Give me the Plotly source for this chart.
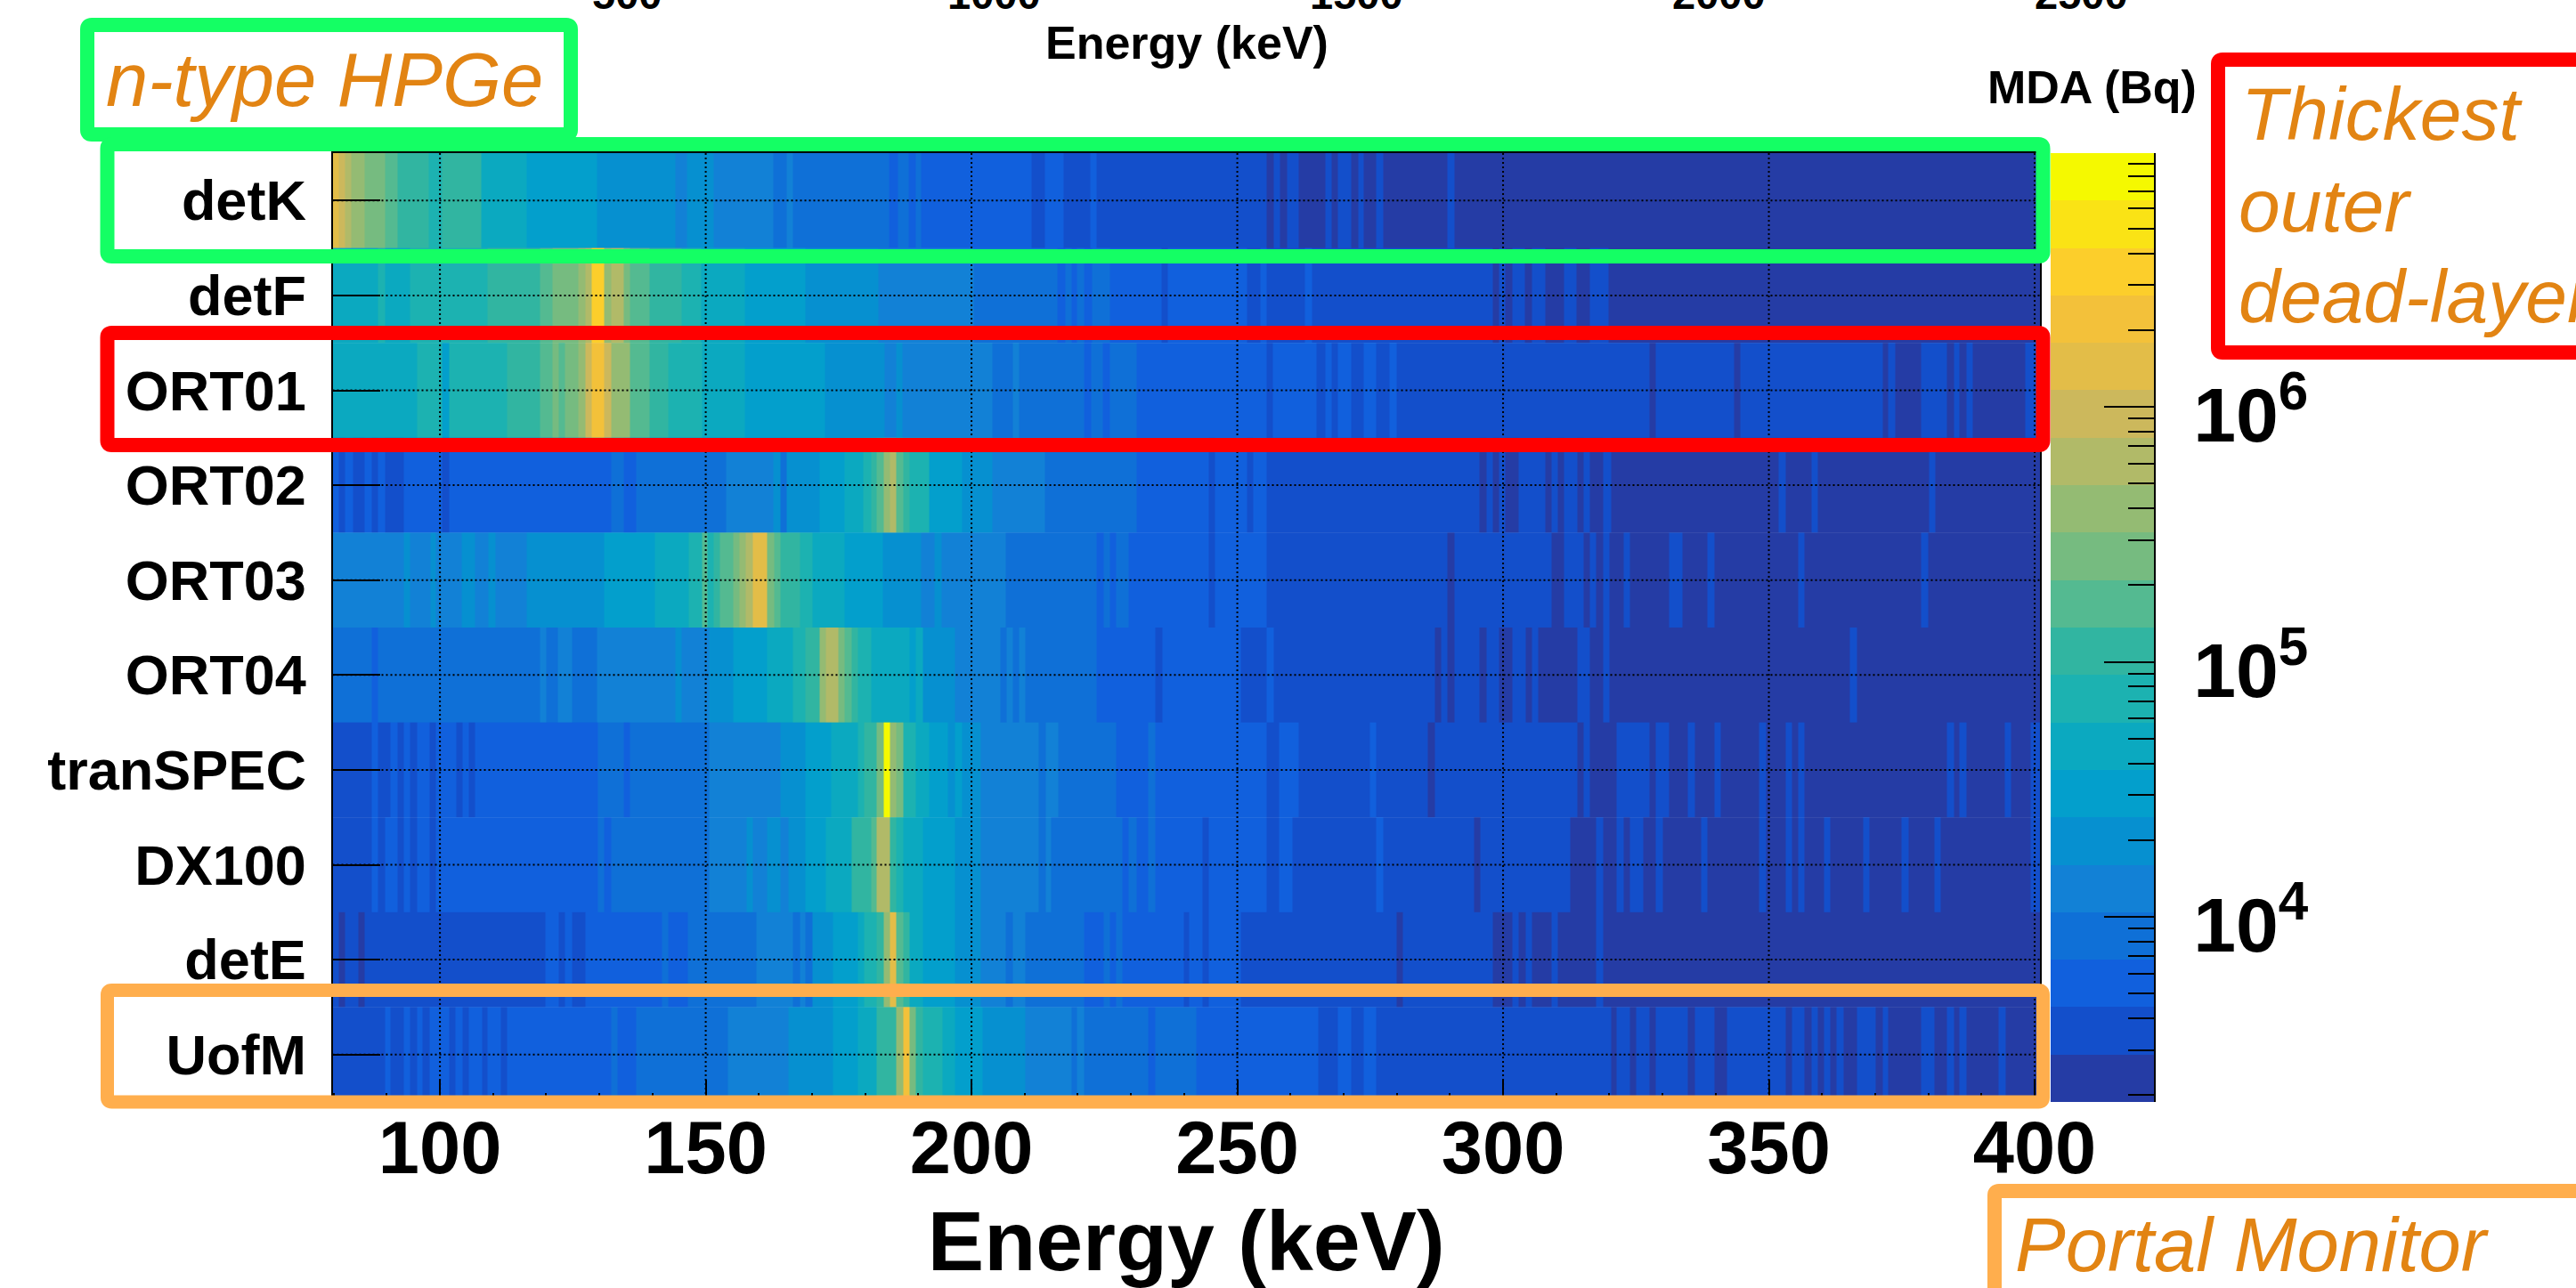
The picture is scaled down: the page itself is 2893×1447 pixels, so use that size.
import plotly.graph_objects as go

W, H = 2893, 1447

# Colour bands of the MDA legend (bottom -> top), band index = position in list
BAND_COLORS = ["#253CA5", "#134FCB", "#1160DD", "#0F70D7", "#1281D6", "#0690D0", "#039FCC",
               "#0BA9C0", "#1CB2B1", "#31B5A1", "#54BA91", "#76BB80", "#94BB73", "#B1BA68",
               "#CCB85C", "#E3BD48", "#F3C13A", "#FCCE2B", "#FAE315", "#F5F900"]
# log10(MDA / Bq) edges of those 20 bands
BAND_LOG_EDGES = [3.274, 3.460, 3.646, 3.832, 4.018, 4.204, 4.390, 4.576, 4.762, 4.948, 5.134,
                  5.321, 5.507, 5.693, 5.879, 6.065, 6.251, 6.437, 6.623, 6.809, 6.995]

DETECTORS = ["detK", "detF", "ORT01", "ORT02", "ORT03", "ORT04", "tranSPEC", "DX100", "detE", "UofM"]
E_MIN, E_MAX = 79.8, 401.0

# Each row: (start energy in keV, MDA band index); a run lasts until the next start
detK = [(79.8,15),(81.0,14),(82.1,13),(83.4,12),(85.8,11),(89.6,10),(92.0,9),(97.9,8),(100.4,9),(107.7,7),
        (116.4,6),(129.5,5),(144.3,4),(146.5,5),(151.5,4),(162.7,3),(165.2,4),(166.4,3),(184.5,2),(186.2,3),
        (188.2,2),(189.5,3),(190.6,2),(211.3,1),(213.8,2),(217.4,1),(222.4,2),(223.6,1),(255.6,0),(256.8,1),
        (258.0,0),(259.3,1),(261.6,0),(266.6,1),(267.8,0),(268.9,1),(271.4,0),(272.7,1),(273.8,0),(276.2,1),
        (277.4,0),(289.6,1),(290.8,0)]
detF = [(79.8,7),(88.3,8),(89.6,7),(94.4,8),(108.9,9),(118.8,10),(121.1,11),(126.0,12),(127.3,13),(128.5,17),
        (130.9,12),(132.2,13),(134.5,11),(135.7,10),(139.4,9),(145.4,8),(149.1,7),(157.4,6),(168.8,5),(182.5,4),
        (200.4,3),(216.1,2),(217.7,3),(218.8,2),(219.9,3),(221.1,2),(222.7,3),(226.1,2),(235.7,1),(237.0,2),
        (251.9,1),(254.3,2),(255.6,1),(262.8,2),(264.0,1),(298.1,0),(299.3,1),(300.4,0),(301.7,1),(304.1,0),
        (305.4,1),(307.9,0),(311.5,1),(313.8,0),(316.4,1),(319.9,0)]
ORT01 = [(79.8,7),(95.7,8),(100.4,6),(101.7,8),(112.6,9),(118.8,10),(121.1,11),(122.3,10),(123.6,11),(126.0,12),
         (127.3,14),(128.5,16),(130.9,14),(132.2,12),(135.7,10),(139.4,9),(142.9,8),(149.3,7),(157.4,6),(172.4,5),
         (183.6,4),(185.9,5),(187.0,4),(204.0,3),(207.8,4),(209.0,3),(221.1,2),(222.5,3),(224.7,2),(226.1,3),
         (231.0,2),(255.6,1),(256.7,2),(264.9,1),(266.6,2),(267.8,1),(268.9,2),(271.4,1),(273.8,2),(276.2,1),
         (278.7,2),(279.9,1),(327.6,0),(328.8,1),(343.4,0),(344.6,1),(371.4,0),(372.5,1),(373.8,0),(378.6,1),
         (383.5,0),(384.8,1),(385.9,0),(387.2,1),(388.4,0),(398.2,1)]
ORT02 = [(79.8,2),(80.9,1),(82.1,2),(83.6,1),(85.8,2),(87.2,1),(88.3,2),(89.6,1),(93.2,2),(100.4,1),(101.7,2),
         (132.2,3),(134.5,2),(137.0,3),(153.8,4),(162.7,5),(164.0,3),(165.2,5),(171.4,6),(176.1,7),(179.7,8),
         (181.1,9),(182.2,10),(183.5,12),(184.6,13),(185.9,10),(187.1,9),(188.4,8),(192.0,6),(198.2,5),(204.0,4),
         (213.8,3),(231.0,2),(244.6,1),(245.8,2),(251.9,1),(253.0,2),(255.6,1),(295.6,0),(296.9,1),(298.1,0),
         (299.3,1),(300.4,0),(303.0,1),(307.9,0),(309.1,1),(310.3,0),(311.5,1),(314.0,0),(315.1,1),(316.4,0),
         (318.8,1),(320.4,0),(351.9,1),(353.1,0),(358.0,1),(359.2,0),(380.1,1),(381.4,0)]
ORT03 = [(79.8,4),(93.2,5),(94.3,4),(98.2,5),(99.3,4),(104.1,5),(106.6,4),(109.1,5),(110.4,4),(116.4,5),(130.9,6),
         (140.4,7),(146.8,8),(149.3,10),(150.4,8),(151.5,9),(152.7,10),(155.2,11),(156.3,12),(157.5,13),(158.8,15),
         (161.6,11),(162.9,10),(164.1,9),(167.7,8),(170.1,7),(176.2,6),(183.4,5),(190.6,4),(193.1,5),(194.4,4),
         (206.5,3),(223.6,2),(224.9,3),(226.1,2),(227.2,3),(229.6,2),(244.6,1),(245.8,2),(255.6,1),(289.6,0),
         (290.8,1),(309.1,0),(311.5,1),(315.1,0),(316.4,1),(317.5,0),(318.8,1),(320.0,0),(322.7,1),(323.9,0),
         (331.2,1),(333.7,0),(338.5,1),(339.7,0),(355.5,1),(356.7,0),(378.6,1),(379.9,0)]
ORT04 = [(79.8,3),(87.1,2),(88.3,3),(118.8,4),(120.0,3),(122.2,4),(124.9,3),(129.6,4),(144.3,5),(145.4,4),(150.7,5),
         (155.2,6),(161.6,7),(166.4,8),(168.8,9),(171.4,12),(172.6,13),(175.0,11),(176.2,10),(177.4,9),(178.6,8),
         (181.1,7),(188.4,6),(189.5,7),(190.8,5),(196.9,4),(205.4,3),(206.6,4),(207.8,3),(209.0,4),(210.2,3),
         (223.6,2),(234.6,1),(235.9,2),(250.6,1),(255.6,2),(256.8,1),(287.2,0),(288.4,1),(289.6,0),(290.8,1),
         (295.6,0),(296.9,1),(299.3,0),(301.7,1),(304.2,0),(305.5,1),(306.6,0),(314.0,1),(316.4,0),(318.8,1),
         (320.0,0),(365.3,1),(366.5,0)]
tranSPEC = [(79.8,1),(87.1,2),(88.3,1),(90.7,2),(92.0,1),(93.2,2),(94.4,1),(95.7,2),(98.1,1),(99.3,2),(103.0,1),
            (104.2,2),(105.4,1),(106.6,2),(129.8,3),(134.5,2),(135.7,3),(150.7,4),(164.0,5),(168.8,6),(173.6,7),
            (178.6,8),(179.8,9),(182.2,11),(183.5,19),(184.6,12),(185.9,11),(187.1,8),(189.5,7),(192.0,6),(195.6,5),
            (196.9,6),(198.2,5),(201.8,4),(212.7,3),(213.9,4),(216.3,3),(227.2,2),(233.3,3),(234.6,2),(255.6,1),
            (257.9,2),(261.6,1),(274.9,2),(276.2,1),(285.9,0),(287.2,1),(314.0,0),(315.1,1),(316.4,0),(321.4,1),
            (327.6,0),(328.8,1),(331.2,0),(334.8,1),(336.1,0),(339.7,1),(340.9,0),(348.2,1),(349.5,0),(353.1,1),
            (354.3,0),(355.5,1),(356.7,0),(383.5,1),(384.8,0),(385.9,1),(387.2,0),(394.4,1),(395.6,0),(399.3,1)]
DX100 = [(79.8,1),(87.1,2),(88.3,1),(89.6,2),(92.0,1),(93.2,2),(94.4,1),(95.7,2),(98.1,1),(99.3,2),(129.8,3),
         (130.9,2),(132.2,3),(150.7,4),(157.7,5),(158.8,4),(161.6,5),(164.0,4),(165.5,5),(168.8,6),(172.6,7),
         (177.4,9),(181.1,10),(182.2,13),(184.6,9),(185.9,8),(187.1,7),(190.8,6),(196.9,5),(201.8,4),(212.7,3),
         (213.9,4),(215.0,3),(228.4,2),(229.6,3),(231.0,2),(233.3,3),(234.6,2),(243.4,1),(244.6,2),(255.6,1),
         (257.9,2),(260.4,1),(276.2,2),(277.4,1),(294.5,0),(295.7,1),(312.7,0),(317.5,1),(318.8,0),(321.4,1),
         (322.7,0),(323.9,1),(326.3,0),(328.8,1),(330.0,0),(337.3,1),(338.5,0),(348.2,1),(349.5,0),(353.1,1),
         (354.3,0),(355.5,1),(356.7,0),(360.4,1),(361.6,0),(367.7,1),(368.9,0),(375.0,1),(376.3,0),(381.1,1),
         (382.3,0),(399.3,1)]
detE = [(79.8,1),(80.9,0),(82.1,1),(84.6,0),(85.8,1),(119.9,2),(122.3,1),(123.6,2),(124.9,1),(127.3,2),(141.8,3),
        (143.0,2),(146.7,3),(159.6,4),(166.4,3),(167.7,4),(168.8,3),(170.1,5),(173.9,6),(178.6,7),(179.8,8),
        (182.2,9),(183.5,12),(184.6,15),(185.9,10),(187.1,9),(188.4,7),(190.9,6),(196.9,5),(201.8,4),(206.5,3),
        (207.8,4),(210.2,3),(221.1,2),(224.9,3),(226.1,2),(227.2,3),(228.4,2),(240.0,1),(240.9,2),(243.4,1),
        (244.6,2),(250.6,1),(279.9,0),(281.1,1),(298.1,0),(301.7,1),(303.0,0),(304.2,1),(305.5,0),(309.1,1),
        (310.3,0),(317.5,1),(318.8,0)]
UofM = [(79.8,1),(89.6,2),(90.7,1),(93.2,2),(94.4,1),(95.7,2),(96.8,1),(98.1,2),(101.8,1),(102.9,2),(104.2,1),
        (105.4,2),(108.0,1),(108.9,2),(111.5,1),(112.6,2),(132.2,3),(133.4,2),(137.0,3),(154.1,4),(165.5,5),
        (173.9,6),(178.6,7),(182.2,9),(185.9,12),(187.1,16),(188.3,11),(189.5,9),(190.8,8),(194.5,7),(196.9,6),
        (202.1,5),(210.2,4),(218.8,3),(219.9,4),(221.2,3),(233.3,2),(234.6,3),(242.3,2),(265.3,1),(268.9,2),
        (271.4,1),(273.8,2),(276.2,1),(320.4,0),(321.4,1),(323.9,0),(325.1,1),(327.6,0),(328.8,1),(334.8,0),
        (336.1,1),(339.7,0),(342.2,1),(353.1,0),(354.3,1),(356.7,0),(358.0,1),(359.2,0),(360.4,1),(361.6,0),
        (362.8,1),(364.0,0),(366.5,1),(370.1,0),(371.4,1),(372.5,0),(378.6,1),(381.1,0),(383.5,1),(384.8,0),
        (385.9,1),(387.2,0),(393.2,1),(394.5,0)]
ROWS = [detK, detF, ORT01, ORT02, ORT03, ORT04, tranSPEC, DX100, detE, UofM]

X_MAJOR = [100, 150, 200, 250, 300, 350, 400]
TOP_TICK_LABELS = ["500", "1000", "1500", "2000", "2500"]
CB_TICKS = [1e4, 1e5, 1e6]
CB_TICK_TEXT = ["10<sup>4</sup>", "10<sup>5</sup>", "10<sup>6</sup>"]
CB_MINOR = [m * 10**k for k in (3, 4, 5, 6) for m in range(2, 10)]

FONT = "Liberation Sans"
ORANGE_TEXT = "#E28413"
GREEN, RED, ORANGE = "#14FF64", "#FF0000", "#FFAE4D"

# frame geometry in page pixels
L, R, T, B = 373.5, 2291, 172, 1238
CB_L, CB_R = 2303, 2419
px = lambda v: v / W
py = lambda v: 1 - v / H

scale = []
n = len(BAND_COLORS)
for i, c in enumerate(BAND_COLORS):
    scale += [[i / n, c], [(i + 1) / n, c]]

fig = go.Figure()
for r, row in enumerate(ROWS):
    starts = [s for s, _ in row]
    fig.add_trace(go.Heatmap(x=starts + [E_MAX], y=[r, r + 1], z=[[lv for _, lv in row]],
                             coloraxis="coloraxis", name=DETECTORS[r]))
fig.add_trace(go.Heatmap(x=[0, 1], y=[10**e for e in BAND_LOG_EDGES], z=[[i] for i in range(n)],
                         coloraxis="coloraxis", xaxis="x2", yaxis="y2", name="MDA (Bq)"))


def rbox(x0, y0, x1, y1, color, width, r=5):
    p = (f"M{px(x0+r)},{py(y0)} L{px(x1-r)},{py(y0)} Q{px(x1)},{py(y0)} {px(x1)},{py(y0+r)} "
         f"L{px(x1)},{py(y1-r)} Q{px(x1)},{py(y1)} {px(x1-r)},{py(y1)} L{px(x0+r)},{py(y1)} "
         f"Q{px(x0)},{py(y1)} {px(x0)},{py(y1-r)} L{px(x0)},{py(y0+r)} Q{px(x0)},{py(y0)} {px(x0+r)},{py(y0)} Z")
    return dict(type="path", path=p, xref="paper", yref="paper", line=dict(color=color, width=width), layer="above")


DOT = dict(color="black", width=2, dash="2px,3px")
shapes = []
for v in X_MAJOR:
    shapes.append(dict(type="line", xref="x", yref="y", x0=v, x1=v, y0=0, y1=len(ROWS), line=DOT, layer="above"))
for r in range(len(ROWS)):
    shapes.append(dict(type="line", xref="x", yref="y", x0=E_MIN, x1=E_MAX, y0=r + .5, y1=r + .5, line=DOT, layer="above"))
shapes += [rbox(98, 28, 641, 151, GREEN, 16),
           rbox(120.5, 162, 2294.5, 288, GREEN, 16),
           rbox(120.5, 374, 2294.5, 500, RED, 16),
           rbox(120.5, 1112.5, 2294.5, 1238, ORANGE, 15),
           rbox(2491, 67, 2960, 396, RED, 16),
           rbox(2240, 1338, 3000, 1520, ORANGE, 16)]


def label(x, base, text, size, color="black", anchor="left", bold=False, italic=False):
    t = f"<i>{text}</i>" if italic else text
    return dict(xref="paper", yref="paper", x=px(x), y=py(base + 0.212 * size), yanchor="bottom", xanchor=anchor,
                text=t, showarrow=False, borderpad=0, borderwidth=0,
                font=dict(family=FONT, size=size, color=color, weight=700 if bold else 400))


anns = [label(119, 119, "n-type HPGe", 85, ORANGE_TEXT, italic=True),
        label(2517, 157, "Thickest", 84, ORANGE_TEXT, italic=True),
        label(2514, 260, "outer", 84, ORANGE_TEXT, italic=True),
        label(2514, 362, "dead-layer", 84, ORANGE_TEXT, italic=True),
        label(2263, 1428, "Portal Monitor", 85, ORANGE_TEXT, italic=True),
        label(2232, 116, "MDA (Bq)", 52, bold=True),
        label(1333, 66, "Energy (keV)", 52, anchor="center", bold=True)]
for pos, txt in zip([704, 1116, 1523, 1930, 2337], TOP_TICK_LABELS):
    anns.append(label(pos, 10, txt, 47, anchor="center", bold=True))

fig.update_layout(
    width=W, height=H, autosize=False, margin=dict(l=0, r=0, t=0, b=0), paper_bgcolor="white", plot_bgcolor="white",
    showlegend=False, shapes=shapes, annotations=anns,
    coloraxis=dict(colorscale=scale, cmin=-0.5, cmax=n - 0.5, showscale=False),
    xaxis=dict(domain=[px(L), px(R)], range=[E_MIN, E_MAX], tick0=0, dtick=50, ticks="inside", ticklen=25, tickwidth=2,
               automargin=False,
               tickcolor="black", showline=True, linecolor="black", linewidth=2, mirror=True, showgrid=False, zeroline=False,
               tickfont=dict(family=FONT, size=83, color="black", weight=700), ticklabelstandoff=-22,
               minor=dict(ticks="inside", ticklen=10, tickwidth=2, tickcolor="black", dtick=10, tick0=0, showgrid=False),
               title=dict(text="Energy (keV)", standoff=30, font=dict(family=FONT, size=95, color="black", weight=700))),
    yaxis=dict(domain=[py(B), py(T)], range=[len(ROWS), 0], tickmode="array", tickvals=[r + .5 for r in range(len(ROWS))],
               automargin=False,
               ticktext=DETECTORS, ticks="inside", ticklen=53, tickwidth=2, tickcolor="black", showline=True,
               linecolor="black", linewidth=2, mirror=True, showgrid=False, zeroline=False, ticklabelstandoff=15,
               tickfont=dict(family=FONT, size=63, color="black", weight=700)),
    xaxis2=dict(domain=[px(CB_L), px(CB_R)], range=[0, 1], anchor="y2", visible=False, automargin=False),
    yaxis2=dict(domain=[py(B), py(T)], anchor="x2", type="log", range=[BAND_LOG_EDGES[0], BAND_LOG_EDGES[-1]], side="right",
                automargin=False,
                tickmode="array", tickvals=CB_TICKS, ticktext=CB_TICK_TEXT, ticks="inside", ticklen=56, tickwidth=2,
                tickcolor="black", showline=True, linecolor="black", linewidth=2, showgrid=False, zeroline=False,
                ticklabelstandoff=25, ticklabelshift=9, tickfont=dict(family=FONT, size=86, color="black", weight=700),
                minor=dict(ticks="inside", ticklen=29, tickwidth=2, tickcolor="black", tickmode="array", tickvals=CB_MINOR, showgrid=False)),
)
CLIP = ("document.body.style.margin='0';document.body.style.overflow='hidden';"
        "document.documentElement.style.overflow='hidden';"
        "var s=document.createElement('style');"
        "s.textContent='.svg-container{overflow:hidden!important}svg.main-svg{overflow:hidden!important}';"
        "document.head.appendChild(s);")
fig.write_html("out.html", post_script=CLIP, config={"displayModeBar": False})
